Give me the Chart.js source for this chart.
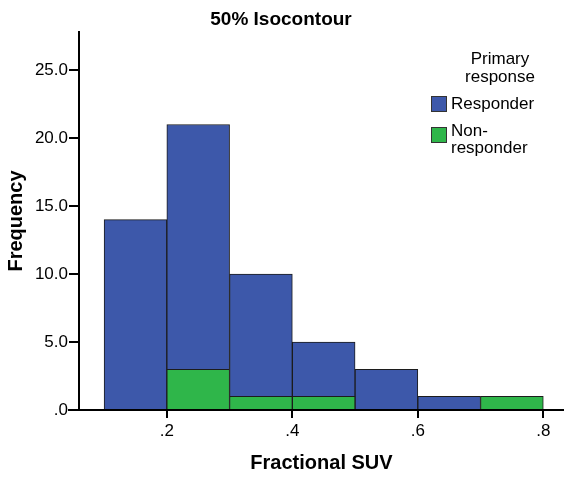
<!DOCTYPE html>
<html>
<head>
<meta charset="utf-8">
<script src="https://cdn.jsdelivr.net/npm/chart.js@4/dist/chart.umd.min.js"></script>
<style>
  html, body { margin: 0; padding: 0; background: #fff; }
  #wrap { width: 564px; height: 479px; }
</style>
</head>
<body>
<div id="wrap"><canvas id="histChart"></canvas></div>
<script>
// bin centres (Fractional SUV bins of width 0.1)
const binCentres = [0.15, 0.25, 0.35, 0.45, 0.55, 0.65, 0.75];
const responder = [14, 18, 9, 4, 3, 1, 0];
const nonResponder = [0, 3, 1, 1, 0, 0, 1];
const xTicks = [0.2, 0.4, 0.6, 0.8];
const yTicks = [0, 5, 10, 15, 20, 25];

const FONT = '"Liberation Sans", Arial, sans-serif';
const toPoints = vals => vals.map((v, i) => ({ x: binCentres[i], y: v }));

// legend + title drawn on the canvas, spss style
const decorPlugin = {
  id: 'decor',
  afterDraw(chart) {
    const c = chart.ctx;
    const area = chart.chartArea;
    c.save();
    // x axis line sticks out a little left of the y axis
    c.strokeStyle = '#000';
    c.lineWidth = 2;
    c.beginPath();
    c.moveTo(area.left - 11, area.bottom);
    c.lineTo(area.left, area.bottom);
    c.stroke();

    c.fillStyle = '#000';
    c.textBaseline = 'middle';
    c.font = 'bold 19px ' + FONT;
    c.textAlign = 'center';
    c.fillText('50% Isocontour', 281, 20);

    c.font = '17px ' + FONT;
    c.fillText('Primary', 500, 59);
    c.fillText('response', 500, 77);

    const items = [
      { ds: chart.data.datasets[1], y: 96, off: 8, lines: ['Responder'] },
      { ds: chart.data.datasets[0], y: 127, off: 4, lines: ['Non-', 'responder'] }
    ];
    c.textAlign = 'left';
    items.forEach(it => {
      c.fillStyle = it.ds.backgroundColor;
      c.fillRect(431, it.y, 16, 16);
      c.strokeStyle = '#333';
      c.lineWidth = 1;
      c.strokeRect(431.5, it.y + 0.5, 15, 15);
      c.fillStyle = '#000';
      it.lines.forEach((t, k) => c.fillText(t, 451, it.y + it.off + k * 17));
    });
    c.restore();
  }
};

const ctx = document.getElementById('histChart').getContext('2d');
const histChart = new Chart(ctx, {
  type: 'bar',
  data: {
    datasets: [
      {
        label: 'Non-responder',
        data: toPoints(nonResponder),
        backgroundColor: '#2fb64a',
        borderColor: '#1c1c1c',
        borderWidth: 1,
        barPercentage: 1,
        categoryPercentage: 1
      },
      {
        label: 'Responder',
        data: toPoints(responder),
        backgroundColor: '#3d58aa',
        borderColor: '#1c1c1c',
        borderWidth: 1,
        barPercentage: 1,
        categoryPercentage: 1
      }
    ]
  },
  options: {
    responsive: true,
    maintainAspectRatio: false,
    animation: false,
    layout: { padding: { top: 32, left: 0, right: 0, bottom: 0 } },
    plugins: {
      legend: { display: false },
      tooltip: { enabled: false }
    },
    scales: {
      x: {
        type: 'linear',
        stacked: true,
        offset: false,
        min: 0.06,
        max: 0.833,
        afterBuildTicks: s => { s.ticks = xTicks.map(v => ({ value: v })); },
        afterFit: s => { s.height = 69; },
        grid: { drawOnChartArea: false, offset: false, color: '#000', tickLength: 8, lineWidth: 2 },
        border: { color: '#000', width: 2 },
        ticks: {
          color: '#000',
          padding: 3,
          font: { size: 17, family: FONT },
          callback: v => v.toFixed(1).replace(/^0/, '')
        },
        title: {
          display: true,
          text: 'Fractional SUV',
          color: '#000',
          padding: { top: 8 },
          font: { size: 20, weight: 'bold', family: FONT }
        }
      },
      y: {
        stacked: true,
        min: 0,
        max: 27.8,
        afterBuildTicks: s => { s.ticks = yTicks.map(v => ({ value: v })); },
        afterFit: s => { s.width = 79; },
        grid: { drawOnChartArea: false, color: '#000', tickLength: 10, lineWidth: 2 },
        border: { color: '#000', width: 2 },
        ticks: {
          color: '#000',
          padding: 1,
          font: { size: 17, family: FONT },
          callback: v => v === 0 ? '.0' : v.toFixed(1)
        },
        title: {
          display: true,
          text: 'Frequency',
          color: '#000',
          padding: { top: 4, bottom: 0 },
          font: { size: 20, weight: 'bold', family: FONT }
        }
      }
    }
  },
  plugins: [decorPlugin]
});
</script>
</body>
</html>
